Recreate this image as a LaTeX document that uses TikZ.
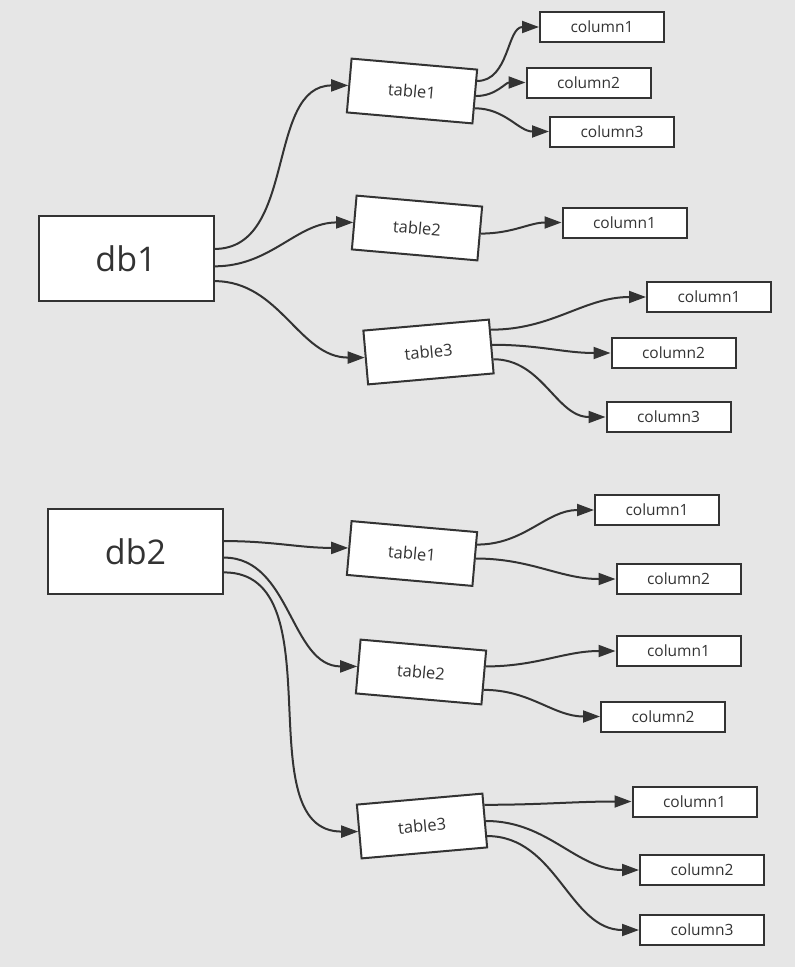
\documentclass[tikz,border=0pt]{standalone}
\usepackage{fontspec}
\setmainfont{Open Sans}
\usepackage{tikz}
\usetikzlibrary{arrows.meta, calc}
\definecolor{bggray}{HTML}{E6E6E6}
\definecolor{ink}{HTML}{333333}

\begin{document}
\begin{tikzpicture}[
    x=1pt, y=-1pt,
    box/.style={rectangle, draw=ink, line width=2pt, fill=white, text=ink, inner sep=0pt},
    dbbox/.style={box, minimum width=175pt, minimum height=85pt, font=\fontsize{34}{40}\selectfont},
    tablebox/.style={box, minimum width=126pt, minimum height=54pt, font=\fontsize{16.5}{19}\selectfont},
    colbox/.style={box, minimum width=124pt, minimum height=30pt, font=\fontsize{15.5}{18}\selectfont},
    arrow/.style={-{Triangle[length=17pt,width=12pt]}, draw=ink, line width=2pt}
]
    \fill[bggray] (0,0) rectangle (795,967);

    \node[dbbox] (db1) at (126,258.5) {db1};
    \node[tablebox, rotate=-5] (db1t1) at (412,91) {table1};
    \node[tablebox, rotate=-5] (db1t2) at (417,228) {table2};
    \node[tablebox, rotate=5] (db1t3) at (428.5,352) {table3};
    \node[colbox] (db1t1c1) at (602,27) {column1};
    \node[colbox] (db1t1c2) at (588.5,82.5) {column2};
    \node[colbox] (db1t1c3) at (612,131.5) {column3};
    \node[colbox] (db1t2c1) at (624.5,222.5) {column1};
    \node[colbox] (db1t3c1) at (709,297) {column1};
    \node[colbox] (db1t3c2) at (673.5,353) {column2};
    \node[colbox] (db1t3c3) at (668.5,417) {column3};

    \node[dbbox] (db2) at (135.5,551.5) {db2};
    \node[tablebox, rotate=-5] (db2t1) at (412,553.5) {table1};
    \node[tablebox, rotate=-5] (db2t2) at (421,672) {table2};
    \node[tablebox, rotate=5] (db2t3) at (422,826) {table3};
    \node[colbox] (db2t1c1) at (657,510) {column1};
    \node[colbox] (db2t1c2) at (678.5,579) {column2};
    \node[colbox] (db2t2c1) at (678.5,651) {column1};
    \node[colbox] (db2t2c2) at (663,716.5) {column2};
    \node[colbox] (db2t3c1) at (694.5,801.5) {column1};
    \node[colbox] (db2t3c2) at (702,870) {column2};
    \node[colbox] (db2t3c3) at (702,930) {column3};

    \draw[arrow] ($(db1.north east)!.39!(db1.south east)$) to[out=0,in=180] (db1t1.west);
    \draw[arrow] ($(db1.north east)!.59!(db1.south east)$) to[out=0,in=180] (db1t2.west);
    \draw[arrow] ($(db1.north east)!.76!(db1.south east)$) to[out=0,in=180] (db1t3.west);
    \draw[arrow] ($(db1t1.north east)!.22!(db1t1.south east)$) to[out=0,in=180] (db1t1c1.west);
    \draw[arrow] ($(db1t1.north east)!.49!(db1t1.south east)$) to[out=0,in=180] (db1t1c2.west);
    \draw[arrow] ($(db1t1.north east)!.71!(db1t1.south east)$) to[out=0,in=180] (db1t1c3.west);
    \draw[arrow] ($(db1t2.north east)!.5!(db1t2.south east)$) to[out=0,in=180] (db1t2c1.west);
    \draw[arrow] ($(db1t3.north east)!.2!(db1t3.south east)$) to[out=0,in=180] (db1t3c1.west);
    \draw[arrow] ($(db1t3.north east)!.47!(db1t3.south east)$) to[out=0,in=180] (db1t3c2.west);
    \draw[arrow] ($(db1t3.north east)!.73!(db1t3.south east)$) to[out=0,in=180] (db1t3c3.west);

    \draw[arrow] ($(db2.north east)!.38!(db2.south east)$) to[out=0,in=180] (db2t1.west);
    \draw[arrow] ($(db2.north east)!.57!(db2.south east)$) to[out=0,in=180] (db2t2.west);
    \draw[arrow] ($(db2.north east)!.74!(db2.south east)$) to[out=0,in=180] (db2t3.west);
    \draw[arrow] ($(db2t1.north east)!.24!(db2t1.south east)$) to[out=0,in=180] (db2t1c1.west);
    \draw[arrow] ($(db2t1.north east)!.49!(db2t1.south east)$) to[out=0,in=180] (db2t1c2.west);
    \draw[arrow] ($(db2t2.north east)!.3!(db2t2.south east)$) to[out=0,in=180] (db2t2c1.west);
    \draw[arrow] ($(db2t2.north east)!.72!(db2t2.south east)$) to[out=0,in=180] (db2t2c2.west);
    \draw[arrow] ($(db2t3.north east)!.22!(db2t3.south east)$) to[out=0,in=180] (db2t3c1.west);
    \draw[arrow] ($(db2t3.north east)!.51!(db2t3.south east)$) to[out=0,in=180] (db2t3c2.west);
    \draw[arrow] ($(db2t3.north east)!.78!(db2t3.south east)$) to[out=0,in=180] (db2t3c3.west);
\end{tikzpicture}
\end{document}
